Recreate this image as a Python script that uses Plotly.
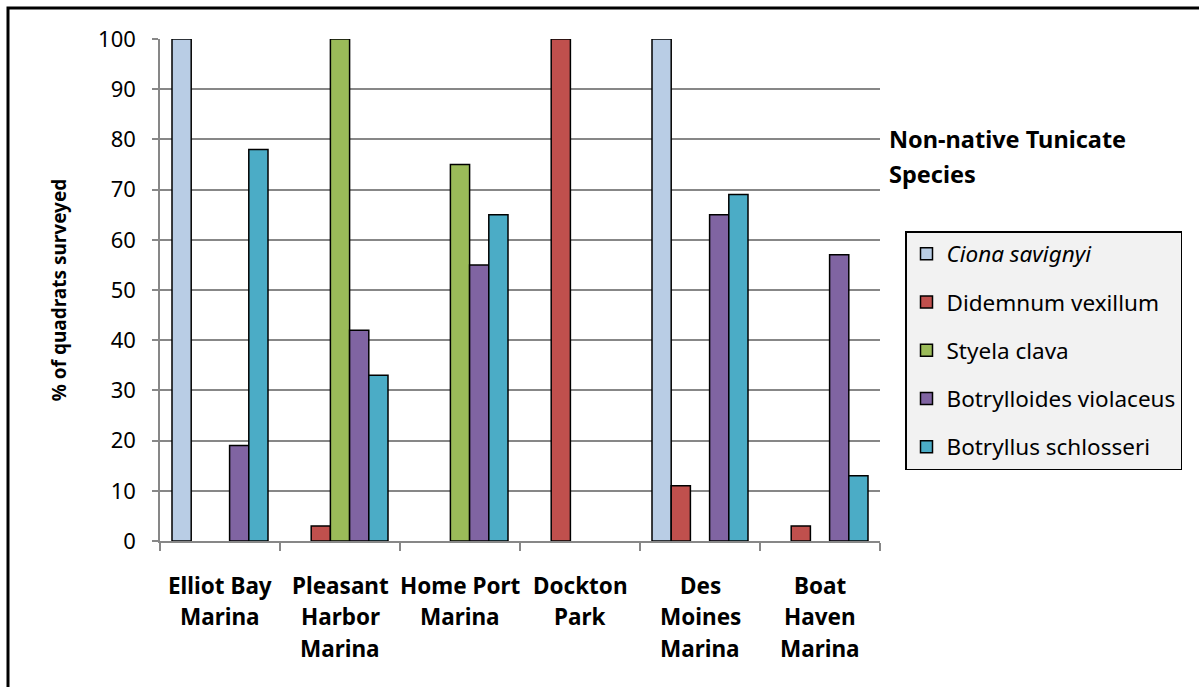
import plotly.graph_objects as go

# Survey sites and share of quadrats with each non-native tunicate
sites = ["Elliot Bay Marina", "Pleasant Harbor Marina", "Home Port Marina",
         "Dockton Park", "Des Moines Marina", "Boat Haven Marina"]
site_lines = [["Elliot Bay", "Marina"], ["Pleasant", "Harbor", "Marina"],
              ["Home Port", "Marina"], ["Dockton", "Park"],
              ["Des", "Moines", "Marina"], ["Boat", "Haven", "Marina"]]

species = ["<i>Ciona savignyi</i>", "Didemnum vexillum", "Styela clava",
           "Botrylloides violaceus", "Botryllus schlosseri"]
ciona = [100, 0, 0, 0, 100, 0]
didemnum = [0, 3, 0, 100, 11, 3]
styela = [0, 100, 75, 0, 0, 0]
botrylloides = [19, 42, 55, 0, 65, 57]
botryllus = [78, 33, 65, 0, 69, 13]
series = [ciona, didemnum, styela, botrylloides, botryllus]
colors = ["#B9CDE5", "#C0504D", "#9BBB59", "#8064A2", "#4BACC6"]

y_ticks = list(range(0, 101, 10))

FONT = "Noto Sans"

fig = go.Figure()
for i, (name, vals, col) in enumerate(zip(species, series, colors)):
    # zero-height bars are left out so no outline sits on the axis
    fig.add_trace(go.Bar(
        x=sites, y=[v if v else None for v in vals], name=name,
        legendgroup=f"g{i}",
        marker=dict(color=col, line=dict(color="black", width=1.5)),
    ))

# Multi-line category labels under the axis
annotations = []
for site, lines in zip(sites, site_lines):
    for j, line in enumerate(lines):
        annotations.append(dict(
            x=site, xref="x", y=0, yref="paper", yanchor="middle",
            yshift=-44 - j * 31.5, text=f"<b>{line}</b>", showarrow=False,
            font=dict(family=FONT, size=22.5, color="black"),
        ))

# Legend heading
for j, line in enumerate(["Non-native Tunicate", "Species"]):
    annotations.append(dict(
        x=1.0, xref="paper", xanchor="left", xshift=7,
        y=1, yref="paper", yanchor="middle", yshift=-(139 - 39) - j * 35,
        text=f"<b>{line}</b>", showarrow=False, align="left",
        font=dict(family=FONT, size=23.5, color="black"),
    ))

fig.update_layout(
    width=1199, height=687,
    margin=dict(l=160, r=319, t=39, b=146),
    paper_bgcolor="white", plot_bgcolor="white",
    barmode="group", bargap=0.2, bargroupgap=0,
    font=dict(family=FONT, size=21, color="black"),
    showlegend=True,
    legend=dict(
        x=(905 - 160) / 720, xanchor="left", y=(541 - 231) / 502, yanchor="top",
        bgcolor="#F2F2F2", bordercolor="black", borderwidth=1.5,
        font=dict(family=FONT, size=22.5, color="black"),
        tracegroupgap=16, entrywidth=255, entrywidthmode="pixels",
        itemclick=False, itemdoubleclick=False,
    ),
    annotations=annotations,
    shapes=[dict(
        type="rect", xref="paper", yref="paper",
        x0=(8 - 160) / 720, x1=(1210 - 160) / 720,
        y0=(541 - 700) / 502, y1=(541 - 8) / 502,
        line=dict(color="black", width=3), fillcolor="rgba(0,0,0,0)",
        layer="below",
    )],
)

fig.update_xaxes(
    type="category", showticklabels=False,
    showline=True, linecolor="#878787", linewidth=1.5,
    ticks="outside", tickson="boundaries", ticklen=8,
    tickcolor="#878787", tickwidth=1.5, showgrid=False,
)
fig.update_yaxes(
    range=[0, 100], tickvals=y_ticks, ticktext=[str(v) for v in y_ticks],
    showline=True, linecolor="#878787", linewidth=1.5,
    ticks="outside", ticklen=6, tickcolor="#878787", tickwidth=1.5,
    showgrid=True, gridcolor="#878787", gridwidth=1.5,
    zeroline=False, ticklabelstandoff=12,
    tickfont=dict(family=FONT, size=22, color="black"),
    title=dict(text="<b>% of quadrats surveyed</b>", standoff=26,
               font=dict(family=FONT, size=19, color="black")),
)

fig.write_html("out.html")
